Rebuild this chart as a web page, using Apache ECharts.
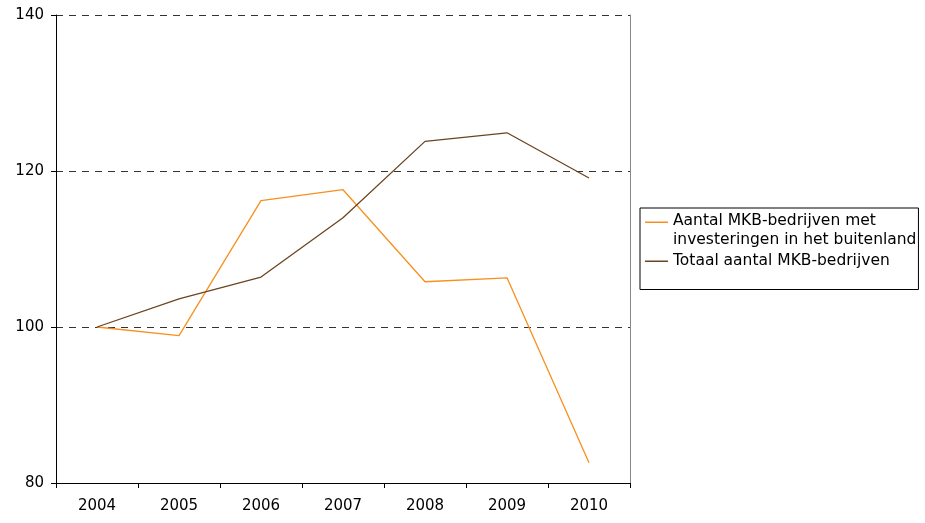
<!DOCTYPE html>
<html>
<head>
<meta charset="utf-8">
<script src="https://cdn.jsdelivr.net/npm/echarts@6/dist/echarts.min.js"></script>
<style>html,body{margin:0;padding:0;background:#fff}#c{width:925px;height:523px}</style>
</head>
<body>
<div id="c"></div>
<script>
const years = ['2004','2005','2006','2007','2008','2009','2010'];
const buitenland = [100, 98.9, 116.2, 117.6, 105.8, 106.3, 82.6];
const totaal = [100, 103.6, 106.4, 114.0, 123.8, 124.9, 119.1];
const seriesNames = ['Aantal MKB-bedrijven met\ninvesteringen in het buitenland', 'Totaal aantal MKB-bedrijven'];

const chart = echarts.init(document.getElementById('c'), null, {renderer: 'canvas'});
const font = 'Verdana, "DejaVu Sans", sans-serif';
const iconTop = 'path://M0,0.2L23,0.2L23,1.7L0,1.7Z M0,18L0.01,18L0.01,18.01Z';
const iconMid = 'path://M0,8.25L23,8.25L23,9.75L0,9.75Z M0,0L0.01,0L0.01,0.01Z M0,18L0.01,18L0.01,18.01Z';
chart.setOption({
  animation: false,
  backgroundColor: '#fff',
  grid: {left: 56, right: 295, top: 15, bottom: 40},
  legend: {
    orient: 'vertical',
    left: 640, top: 208,
    padding: [4, 2, 19, 5],
    itemGap: 3,
    itemWidth: 23, itemHeight: 18,
    itemTextGap: 4,
    borderColor: '#000', borderWidth: 1,
    textStyle: {fontFamily: font, fontSize: 15.5, color: '#000', lineHeight: 18.5},
    data: [{name: seriesNames[0], icon: iconTop}, {name: seriesNames[1], icon: iconMid}]
  },
  xAxis: {
    type: 'category', data: years, boundaryGap: true,
    axisLine: {lineStyle: {color: '#000', width: 1}},
    axisTick: {show: true, length: 5, lineStyle: {color: '#000'}},
    axisLabel: {fontFamily: font, fontSize: 15, color: '#000', margin: 16}
  },
  yAxis: [{
    type: 'value', min: 80, max: 140, interval: 20,
    axisLine: {show: true, lineStyle: {color: '#000'}},
    axisTick: {show: true, length: 5, lineStyle: {color: '#000'}},
    axisLabel: {fontFamily: font, fontSize: 15, color: '#000', margin: 12},
    splitLine: {show: true, lineStyle: {color: '#333', type: [7, 6], width: 1}}
  }, {
    type: 'value', min: 80, max: 140, interval: 20, position: 'right',
    axisLine: {show: true, lineStyle: {color: '#888'}},
    axisTick: {show: false}, axisLabel: {show: false}, splitLine: {show: false}
  }],
  series: [{
    name: seriesNames[0], type: 'line', data: buitenland,
    symbol: 'none', lineStyle: {color: '#F7901E', width: 1.3}, itemStyle: {color: '#F7901E'}
  }, {
    name: seriesNames[1], type: 'line', data: totaal,
    symbol: 'none', lineStyle: {color: '#6B4420', width: 1.3}, itemStyle: {color: '#6B4420'}
  }]
});
</script>
</body>
</html>
